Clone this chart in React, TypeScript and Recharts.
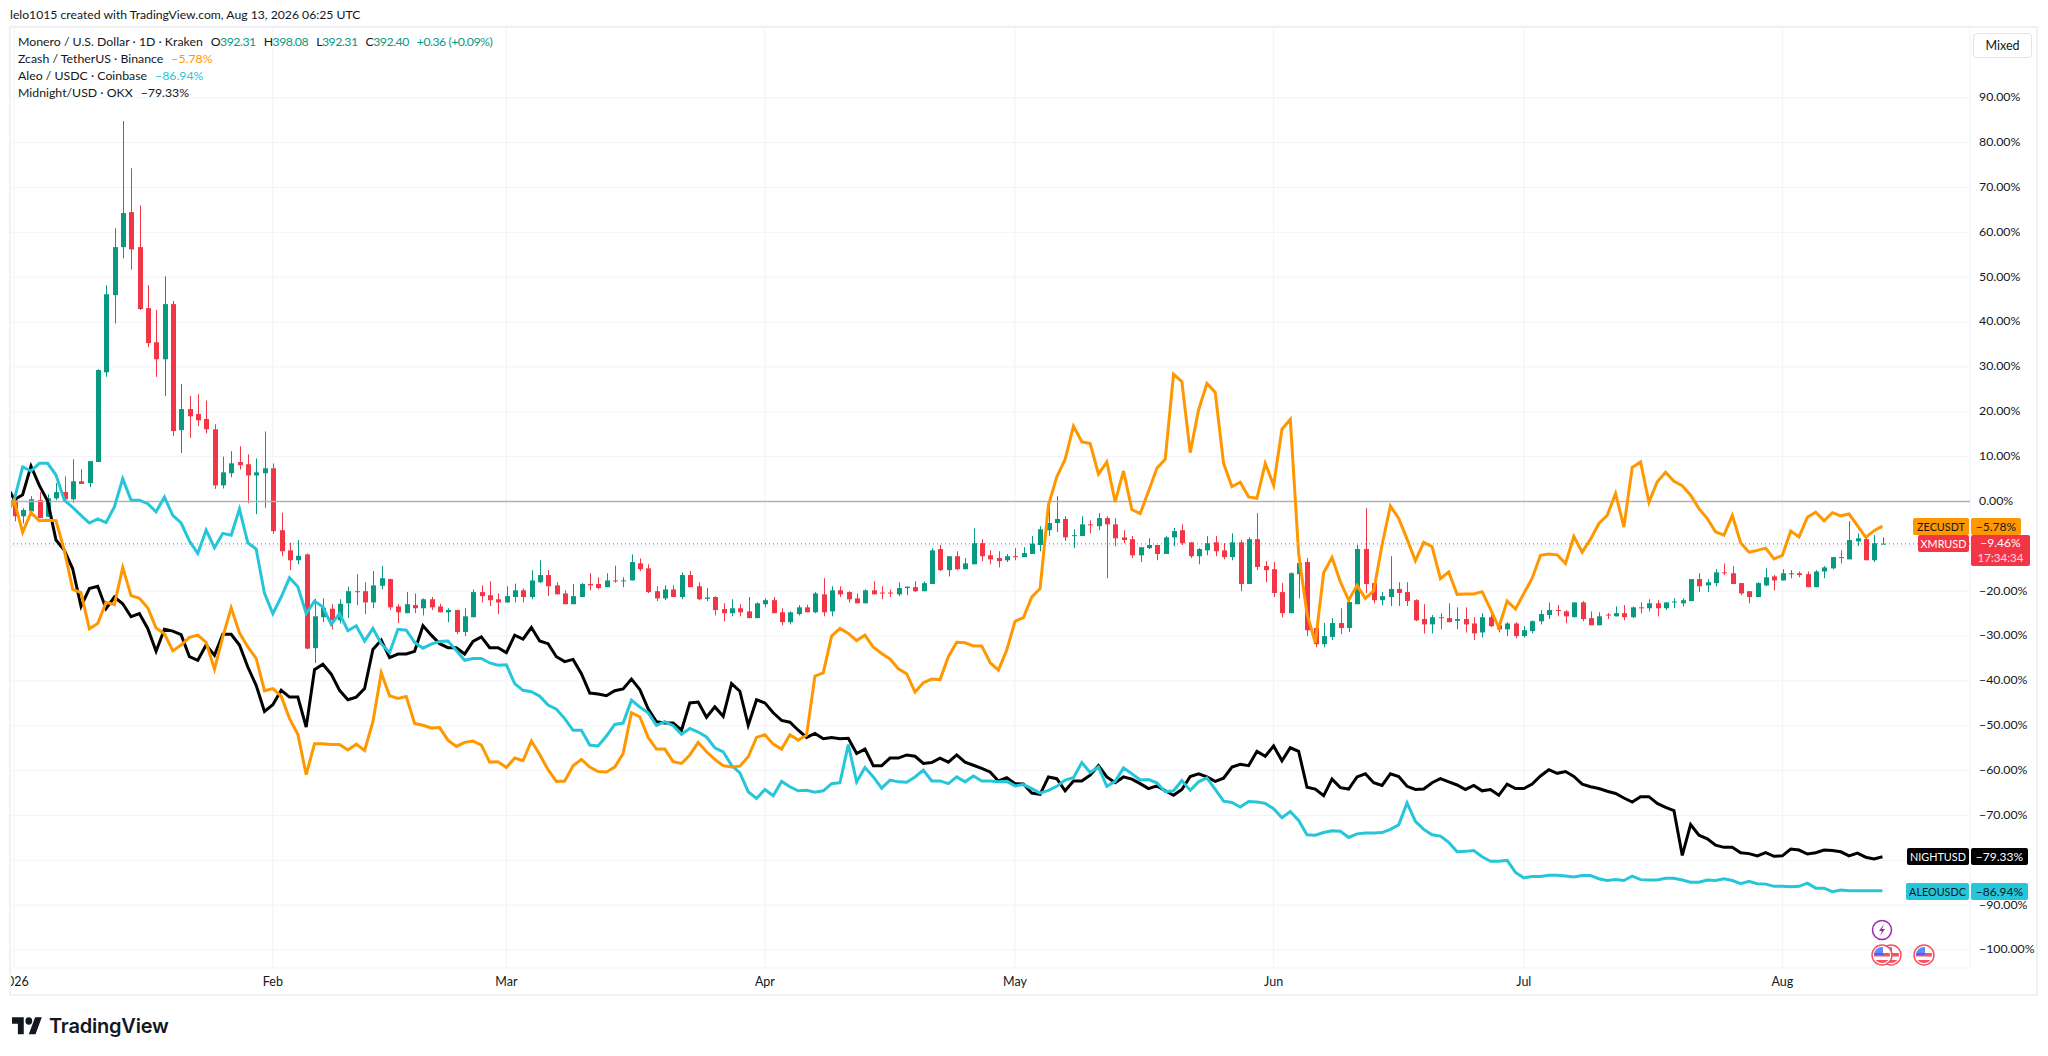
import { Bar, CartesianGrid, ComposedChart, Line, ReferenceLine, XAxis, YAxis } from "recharts";

// day 0 is Jan 1 2026, the first value of each line array is the day before it
const monthTicks = [0, 31, 59, 90, 120, 151, 181, 212];
const monthLabels = ["2026", "Feb", "Mar", "Apr", "May", "Jun", "Jul", "Aug"];
const percentTicks = [90, 80, 70, 60, 50, 40, 30, 20, 10, 0, -10, -20, -30, -40, -50, -60, -70, -80, -90, -100];

const zecLine = [
  -2.7,
  0.1, -6.9, -2.5, -4.3, -4.2, -4.3, -10.9, -19.6, -20.3, -28.4,
  -27.2, -22.5, -23, -14.7, -21, -21.6, -23.7, -28.2, -29.5, -33.3,
  -32, -30.3, -29.8, -31.4, -37.4, -30.2, -23.7, -29.3, -32.4, -35,
  -42.2, -41.7, -43.4, -48.4, -51.9, -60.9, -54, -54, -54.2, -54.2,
  -55.4, -54.1, -55.5, -49.1, -38.2, -43.3, -43.9, -43.5, -49.5, -49.9,
  -50.5, -50.4, -53.2, -54.6, -53.7, -53.4, -54.3, -58.1, -58, -59.3,
  -57.2, -57.8, -53.4, -56.4, -59.8, -62.4, -62.3, -58.9, -57.5, -59.2,
  -60.2, -60.3, -59.2, -56.2, -47.1, -48, -52.6, -55.2, -55.2, -58,
  -58.4, -56.5, -53.7, -55.8, -57.5, -58.9, -59.2, -59, -56.9, -52.6,
  -52, -54.1, -55.2, -52, -53.2, -52.1, -38.9, -38.2, -30, -28.3,
  -29.4, -31, -29.8, -32.5, -33.9, -35.1, -37.3, -38.4, -42.5, -40.4,
  -39.6, -39.7, -34.6, -31.4, -31.5, -32.2, -32.2, -35.9, -37.6, -33.1,
  -26.7, -25.9, -21.3, -19.4, -0.8, 5.5, 9.4, 16.8, 13.3, 12.9,
  6.1, 8.8, -0.1, 6.8, -1.8, -2.7, 2.3, 7.4, 9.4, 28.4,
  26.7, 10.9, 20.4, 26.3, 24.3, 8.5, 3.3, 4.3, 1, 0.7,
  8.5, 3.6, 16.1, 18.3, -11.6, -25, -31.5, -15.9, -12.5, -17.9,
  -22, -18.7, -21.6, -19.9, -9.7, -1, -3.8, -8.4, -13.2, -9.1,
  -10.1, -17.2, -15.7, -20.7, -20.6, -20.6, -20.1, -24, -28.1, -22.2,
  -24, -20.5, -17.1, -12, -11.7, -11.9, -13.8, -7.8, -11.3, -8.4,
  -4.9, -3.1, 1.8, -5.7, 7.6, 8.8, -0.2, 4.4, 6.5, 4.5,
  3.5, 1.4, -1.6, -3.8, -6.8, -7.5, -3.1, -9.2, -11.3, -10.9,
  -10.4, -12.8, -12, -6.6, -7.9, -3.5, -2.4, -4.3, -2.5, -3.2,
  -2.8, -5.4, -8, -6.5, -5.5,
];

const aleoLine = [
  -1.3,
  0.4, 7.7, 6.8, 8.5, 8.5, 5.9, 0.3, -1.3, -3.1, -4.8,
  -3.9, -4.7, -1.2, 5.1, 0.3, 0.3, -0.5, -2.3, 1, -3.1,
  -4.8, -8.8, -11.6, -6.4, -10.3, -7.1, -7.5, -1.7, -9.2, -10.6,
  -20.5, -25, -21.3, -17, -19, -25, -22.2, -23.5, -27.4, -25,
  -28.8, -27.7, -31.1, -28.3, -31.7, -33.7, -28.5, -28.7, -31.4, -32.7,
  -31.8, -31.2, -31.1, -33.2, -35.4, -35, -35, -36, -36.5, -36.4,
  -40.6, -42.1, -42.4, -43.4, -45.4, -46.3, -48.4, -51, -51, -54.3,
  -54.5, -52.3, -49.7, -49.4, -44.3, -45.8, -47.1, -49.9, -49.1, -50,
  -51.9, -50.6, -51.4, -52.5, -54.9, -55.8, -58.8, -60.5, -64.7, -66.2,
  -64.2, -65.6, -62.4, -63.6, -64.5, -64.4, -64.8, -64.5, -62.9, -62.7,
  -54.2, -62.5, -59.3, -61.4, -63.9, -62.1, -62.5, -62.6, -61.4, -59.9,
  -62.3, -62.3, -62.9, -61.4, -62.5, -61.2, -62.3, -62.3, -62.5, -62.4,
  -63.4, -63.1, -64, -65, -64.4, -63.5, -62.1, -61.6, -58.2, -60.4,
  -59.2, -63.5, -62.4, -59.4, -60.7, -62.1, -62, -62.7, -64.7, -64.5,
  -62.2, -64.4, -62.5, -61.6, -64.2, -66.8, -67.1, -68.1, -66.9, -67,
  -67.3, -68.5, -70.5, -69.1, -71.1, -74.3, -74.4, -73.8, -73.4, -73.5,
  -74.9, -74.1, -73.9, -73.9, -73.8, -73.1, -72.1, -67.2, -71.3, -73.1,
  -74.3, -74.6, -76, -78.1, -78, -77.8, -79.2, -80.2, -80.2, -80,
  -82.7, -83.9, -83.6, -83.6, -83.3, -83.3, -83.5, -83.7, -83.4, -83.4,
  -84.1, -84.5, -84.3, -84.5, -83.5, -84.3, -84.4, -84.4, -84, -84,
  -84.4, -84.9, -84.9, -84.4, -84.5, -84.1, -84.5, -85.2, -84.7, -85.2,
  -85.3, -85.8, -85.8, -85.9, -85.8, -85.1, -86.2, -86.2, -87, -86.6,
  -86.8, -86.8, -86.8, -86.8, -86.8,
];

const nightLine = [
  3.9,
  0.4, 1.5, 7.9, 3.6, 0.1, -8.6, -10.9, -15, -23.4, -19.4,
  -18.9, -23.9, -21.3, -22.8, -25.7, -25, -28.3, -33.4, -28.5, -28.9,
  -29.7, -34.6, -35.4, -32, -34.3, -29.6, -29.6, -32, -36.9, -41,
  -46.8, -45.3, -42.1, -43.6, -43.6, -50.3, -37.5, -36.3, -38.5, -42.1,
  -44.2, -43.6, -41.7, -33, -30.9, -34.8, -34, -34, -33.4, -27.7,
  -29.8, -31.7, -32.6, -32.6, -34, -31.2, -30.2, -32.6, -32.6, -33.7,
  -29.8, -30.7, -28.1, -31.1, -31.7, -34.6, -35.7, -35.2, -38.4, -42.7,
  -42.9, -43.3, -42.2, -41.8, -39.6, -41.9, -46.2, -49.1, -49.4, -49.4,
  -51, -44.9, -44.7, -48.1, -45.8, -47.9, -40.6, -42.3, -49.9, -44.2,
  -44.9, -47.1, -48.8, -49.2, -51, -52.6, -51.7, -52.9, -52.6, -52.9,
  -52.8, -56.2, -55.2, -58.9, -58.9, -57.2, -57.2, -56.5, -56.8, -58.4,
  -58.2, -57.2, -58.1, -56.5, -58.1, -58.8, -59.5, -60.3, -62.3, -61.6,
  -62.9, -63, -65, -65.3, -61.4, -61.8, -64.5, -62.3, -62.3, -61,
  -58.9, -61.4, -62.7, -61.4, -61.9, -62.9, -64, -63.4, -64.5, -65.5,
  -64.2, -61.3, -60.7, -61.4, -62.4, -61.7, -59.2, -58.6, -58.9, -55.7,
  -56.8, -54.5, -57.8, -54.9, -55.7, -63.7, -64.1, -65.6, -61.9, -63.8,
  -64.1, -61.4, -60.7, -62.7, -63.3, -60.7, -61.3, -63.5, -64.2, -64.1,
  -62.7, -61.8, -62.5, -63.2, -64.2, -63.3, -64.5, -64.2, -65.5, -63,
  -64, -64, -63, -61.2, -59.8, -60.6, -60.2, -61.3, -63, -63.6,
  -64, -64.6, -65.1, -66.1, -67, -65.8, -65.8, -67.3, -68.2, -68.9,
  -78.9, -72, -74.4, -75.2, -76.6, -77.1, -77.1, -78.3, -78.5, -79,
  -78.3, -79.1, -79, -77.5, -77.7, -78.6, -78.3, -77.7, -77.8, -78.1,
  -79, -78.4, -79.3, -79.7, -79.2,
];

// Monero candles in percent from the first bar, day 0 to day 224
const xmrOpen = [
  0.3, -3.3, -2.2, 0.3, -3.4, 0.7, 2.1, 0.5, 4.5, 4.1,
  8.8, 28.8, 46, 56.7, 64.5, 56.7, 43.1, 35.5, 31.7, 44,
  15.9, 20.6, 19.5, 18.4, 16.1, 3.6, 6.3, 8.8, 8.3, 5.8,
  6.3, 7.4, -6.4, -10.9, -13.1, -11.8, -32.7, -25.8, -23.9, -26.5,
  -22.7, -20, -20, -22.5, -18.8, -17.3, -23.4, -24.9, -23.1, -23.8,
  -21.8, -23.4, -24.7, -24.2, -29.1, -25.8, -20.2, -20.9, -21.8, -22.5,
  -21.3, -19.8, -21.3, -18, -16.4, -18.7, -20.5, -22.9, -21.3, -18.4,
  -18.4, -19.1, -17.6, -17.8, -17.6, -13.8, -14.9, -20, -21.6, -19.6,
  -21.3, -16.4, -18.9, -21.7, -21.3, -24, -24.9, -23.8, -24.5, -26,
  -22.9, -22, -24.7, -26.9, -25.1, -23.6, -24.7, -20.7, -24.5, -19.8,
  -20.2, -21.6, -22.7, -19.8, -20.3, -20.3, -20.7, -19.3, -19.1, -20,
  -18.4, -10.6, -15.3, -12.2, -15.1, -14, -9.3, -12, -12.6, -13.1,
  -12.2, -12.4, -11.7, -9.7, -6.4, -4.8, -3.9, -7.7, -7.7, -5.1,
  -5.5, -3.7, -5.1, -8, -8.4, -12, -10.4, -9.7, -11.7, -8,
  -6.4, -9.1, -12.2, -10.9, -9.1, -10.9, -12.4, -9.1, -18.4, -8.4,
  -14.4, -15.1, -20.2, -24.9, -16.2, -13.5, -28.2, -31.8, -30.2, -27.1,
  -28.2, -22.9, -10.6, -18.2, -22, -21.3, -19.5, -20.2, -22, -26.2,
  -27.4, -25.8, -26, -26.6, -26.2, -27.2, -29.2, -25.8, -27.6, -28.5,
  -27.2, -30, -28.9, -26.7, -25.3, -24.2, -24.5, -25.8, -22.5, -26,
  -27.6, -25.2, -25.6, -24.9, -25.8, -23.6, -23.8, -22.7, -23.8, -22.5,
  -22.7, -22.2, -17.3, -18.7, -18.2, -15.8, -16, -18.2, -20, -21.3,
  -18.7, -16.7, -17.6, -16.2, -16, -16.2, -19.1, -15.6, -14.9, -12.4,
  -12.9, -8.9, -8.4, -13.1, -9.5,
];

const xmrHigh = [
  0.3, -1.5, 1.2, 2.1, 1.6, 4.1, 5.6, 9.4, 7.2, 9,
  29.5, 48.2, 60.9, 84.8, 74.3, 66, 48.2, 42.7, 50.2, 44.7,
  26.2, 23.5, 23.9, 22.5, 17.2, 10, 11.2, 12.3, 10.5, 9.6,
  15.6, 8.5, -2.5, -9.2, -8.6, -11.6, -21.7, -21.6, -22.9, -21.8,
  -19, -16.2, -18, -15.5, -14.4, -17.2, -22.9, -20.2, -20.5, -21.6,
  -21.3, -22.8, -23.8, -24.1, -23.8, -19.6, -18.7, -17.8, -20.5, -18.9,
  -18.3, -19.4, -15.3, -13.1, -15.3, -18, -19.8, -18.4, -18.2, -16,
  -16.9, -16, -14.3, -16.9, -11.8, -12.7, -14, -18.9, -18.7, -18.7,
  -15.8, -15.5, -18, -19.3, -21.1, -22.7, -21.8, -22.9, -21.3, -22.5,
  -21.6, -21.3, -23.8, -24.5, -23.1, -23, -20.2, -17.1, -18.9, -18.9,
  -20, -20.5, -19.6, -17.8, -18.9, -19.6, -18, -18.9, -17.8, -17.8,
  -10.4, -9.7, -12.2, -11.1, -12.6, -6, -8.4, -10.9, -11.1, -11.7,
  -10.4, -10.2, -7.7, -5.5, -0.8, 1.2, -3.3, -6.2, -3.3, -4.2,
  -2.6, -3.3, -3.7, -6.4, -7.7, -10.2, -8.2, -9.7, -7.7, -5.9,
  -5.1, -9.1, -10.4, -7.7, -7.7, -9.3, -7.1, -8.6, -8, -2.6,
  -13.3, -13.5, -18.2, -15.8, -11.1, -12.6, -27.4, -27.1, -26, -23.8,
  -22.2, -9.7, -1.5, -18.2, -20.2, -12.2, -18, -18, -21.8, -22.9,
  -25.3, -24.9, -22.7, -23.6, -23.6, -25.8, -24.9, -25.3, -26.7, -26.9,
  -26.9, -27.8, -26.5, -24.2, -22.5, -23.1, -24.2, -22.5, -22.2, -24.5,
  -24.7, -24.9, -23.4, -23.1, -23.4, -22.5, -21.8, -22, -22.5, -21.6,
  -21.6, -17.3, -16, -17.3, -15.1, -13.8, -14.4, -18.2, -20, -18,
  -14.9, -16.4, -15.1, -15.3, -15.6, -15.6, -15.3, -14.4, -12.4, -10.9,
  -4.4, -7.1, -7.7, -7.5, -8,
];

const xmrLow = [
  -4.4, -4.9, -2.2, -3.7, -3.4, 0.3, -0.1, -0.3, 3.9, 3.2,
  8.8, 27.8, 39.7, 54.2, 51.7, 42.7, 34.4, 27.8, 23.5, 14.6,
  10.8, 14.2, 16.8, 15.2, 2.8, 2.9, 5.4, 7.1, -0.4, -2.8,
  -1.4, -7.2, -12.2, -15.3, -14, -32.9, -36, -26.9, -28.5, -27.2,
  -26, -23.1, -25.1, -23.8, -19.6, -24.2, -27.1, -24.9, -24.9, -25.4,
  -24.2, -24.7, -26.9, -29.6, -30, -25.8, -22.5, -23.3, -25.1, -22.6,
  -22.5, -22.5, -21.8, -18.2, -21.1, -20.7, -22.9, -22.9, -21.3, -19.8,
  -19.6, -19.1, -18.1, -19.1, -17.6, -15.5, -20.4, -22.2, -22, -21.3,
  -21.8, -19.1, -22, -22.2, -25.4, -26.7, -25.6, -25.6, -26, -26,
  -23.6, -24.9, -27.6, -27.4, -25.4, -24.7, -24.9, -25.6, -25.6, -21.3,
  -22.5, -22.7, -22.7, -20.7, -21.8, -21.3, -21.1, -20.9, -20.2, -20,
  -18.4, -15.5, -16.7, -15.3, -15.1, -14, -13.3, -14, -14.7, -13.5,
  -13.1, -12.4, -11.7, -11.1, -7.7, -6.8, -8.8, -10.4, -7.7, -7.1,
  -6.4, -17.1, -10, -9.3, -12.6, -13.5, -10.6, -13.1, -11.7, -10,
  -9.7, -12.6, -14, -12, -12.2, -12.9, -13.1, -20, -18.4, -15.3,
  -18, -21.3, -25.8, -24.9, -21.6, -30, -32.5, -32.5, -30.9, -29.6,
  -29.1, -22.9, -20.4, -22.7, -23.1, -23.3, -23.3, -23.3, -26.7, -29.4,
  -29.4, -28.5, -26.9, -28.5, -29.2, -30.9, -30.3, -28, -29.2, -30,
  -30.5, -30.3, -29.4, -27.4, -26.2, -25.6, -27.1, -25.8, -26.7, -27.6,
  -27.6, -26.2, -25.6, -26.5, -26, -24.9, -24.5, -25.6, -24.2, -23.8,
  -23.4, -22.2, -20.2, -20.2, -18.9, -16.4, -18.4, -20.9, -22.7, -21.3,
  -18.9, -19.8, -17.6, -17.1, -16.9, -19.1, -19.1, -17.1, -15.1, -13.8,
  -12.9, -9.9, -13.1, -13.5, -9.5,
];

const xmrClose = [
  -3.3, -1.9, 0.5, -3.7, 0.7, 2.1, 0.5, 4.5, 3.9, 9,
  29.3, 46.2, 56.7, 64.3, 56.2, 42.9, 35.3, 31.7, 44, 15.7,
  20.6, 19, 18.1, 16.1, 3.6, 6.5, 8.5, 8.1, 5.8, 6.5,
  7.4, -6.6, -11.1, -13.1, -12.1, -32.8, -25.6, -23.7, -26.5, -22.8,
  -20, -20.1, -22.5, -18.7, -17.1, -23.6, -24.7, -22.9, -23.8, -21.8,
  -23.6, -24.7, -24.2, -29.1, -25.6, -20.2, -21.1, -22, -22.5, -21.1,
  -19.8, -21.3, -17.6, -16.4, -18.9, -20.7, -22.9, -21.1, -18.4, -18.7,
  -19.3, -17.6, -17.8, -17.6, -13.5, -15.1, -20.2, -21.6, -19.6, -21.3,
  -16.4, -19.1, -21.8, -21.4, -24.2, -24.9, -23.8, -24.7, -26, -22.7,
  -22, -24.9, -26.9, -24.7, -23.6, -24.7, -20.5, -24.7, -19.8, -20.7,
  -21.8, -22.7, -19.8, -20.7, -20.4, -20.4, -19.3, -19, -20, -18.2,
  -10.9, -15.3, -12.2, -15.1, -13.8, -9.3, -12.2, -12.9, -13.3, -12.2,
  -12.4, -11.5, -9.4, -6.2, -4.8, -3.9, -8, -7.5, -5.1, -5.3,
  -3.7, -5.1, -8.2, -8.6, -12, -10.2, -9.7, -11.7, -8, -6.6,
  -9.3, -12.2, -10.6, -9.3, -11.1, -12.4, -9.1, -18.4, -8.4, -14.6,
  -15.3, -20.4, -24.9, -16, -13.7, -28.7, -31.8, -30, -27.1, -28.2,
  -22.4, -10.6, -18.4, -22, -21.1, -19.5, -20.4, -22.2, -26.5, -27.4,
  -25.8, -26, -26.9, -26.2, -27.4, -29.4, -25.8, -27.8, -28.5, -27.2,
  -30, -28.7, -26.7, -25.1, -24.2, -24.4, -25.6, -22.5, -26.2, -27.6,
  -25.6, -25.4, -24.9, -25.8, -23.6, -23.8, -22.7, -23.8, -22.5, -22.3,
  -22, -17.3, -18.9, -18, -15.8, -16, -18.4, -20.5, -21.3, -18.2,
  -16.9, -17.6, -16, -16, -16.4, -19.1, -15.6, -14.7, -12.4, -12.6,
  -8.6, -8.2, -13.1, -9.3, -9.4,
];

const lastXmr = -9.46;

const UP = "#089981";
const DOWN = "#F23645";
const ORANGE = "#FF9800";
const CYAN = "#26C6DA";
const FONT = "Lato, sans-serif";

const chartData = zecLine.map((zec, i) => ({
  day: i - 1,
  zec,
  aleo: aleoLine[i],
  night: nightLine[i],
  open: xmrOpen[i - 1],
  high: xmrHigh[i - 1],
  low: xmrLow[i - 1],
  close: xmrClose[i - 1],
}));

const formatPercent = (v: number) =>
  (v < 0 ? "\u2212" : "") + Math.abs(v).toFixed(2) + "%";

// wick comes from the bar's low-high range, the body is placed inside it
function Candle(props: any) {
  const { x, y, width, height, payload } = props;
  if (payload.open === undefined) return null;
  const top = Math.min(y, y + height);
  const range = payload.high - payload.low;
  const scale = range > 0 ? Math.abs(height) / range : 0;
  const cx = Math.round(x + width / 2);
  const bodyTop = top + (payload.high - Math.max(payload.open, payload.close)) * scale;
  const bodyH = Math.max(Math.abs(payload.open - payload.close) * scale, 1);
  const color = payload.close >= payload.open ? UP : DOWN;
  return (
    <g>
      <rect x={cx} y={top} width={1} height={Math.abs(height)} fill={color} />
      <rect x={cx - 2} y={bodyTop} width={5} height={bodyH} fill={color} />
    </g>
  );
}

function Tag({ left, top, width, height, bg, color, size = 12, children }: any) {
  return (
    <div
      style={{
        position: "absolute",
        left,
        top,
        width,
        height,
        background: bg,
        color,
        borderRadius: 2,
        fontSize: size,
        lineHeight: "17px",
        textAlign: "center",
        whiteSpace: "nowrap",
      }}
    >
      {children}
    </div>
  );
}

function FlagIcon({ cx, cy }: { cx: number; cy: number }) {
  return (
    <g>
      <circle cx={cx} cy={cy} r={10} fill="#fff" stroke="#F7525F" strokeWidth={1.5} />
      <clipPath id={`flag-${cx}`}>
        <circle cx={cx} cy={cy} r={8} />
      </clipPath>
      <g clipPath={`url(#flag-${cx})`}>
        <rect x={cx - 8} y={cy - 8} width={16} height={16} fill="#fff" />
        <rect x={cx - 8} y={cy - 2} width={16} height={3.5} fill="#F7525F" />
        <rect x={cx - 8} y={cy + 5} width={16} height={3} fill="#F7525F" />
        <rect x={cx - 8} y={cy - 8} width={9} height={8} fill="#2962FF" opacity={0.75} />
      </g>
    </g>
  );
}

function Ohlc({ label, value }: { label: string; value: string }) {
  return (
    <span style={{ marginLeft: 8, letterSpacing: -0.5 }}>
      {label}
      <span style={{ color: UP }}>{value}</span>
    </span>
  );
}

export default function App() {
  return (
    <div
      style={{
        position: "absolute",
        left: 0,
        top: 0,
        width: 2048,
        height: 1056,
        background: "#fff",
        overflow: "hidden",
        fontFamily: FONT,
        color: "#131722",
      }}
    >
      <ComposedChart
        width={2048}
        height={1056}
        data={chartData}
        margin={{ top: 26, right: 10, bottom: 60, left: 10 }}
        style={{ fontFamily: FONT }}
      >
        <CartesianGrid stroke="#f0f3fa" />
        <XAxis
          dataKey="day"
          type="number"
          domain={[-0.516, 234.5]}
          allowDataOverflow
          ticks={monthTicks}
          tickFormatter={(v: number) => monthLabels[monthTicks.indexOf(v)]}
          axisLine={false}
          tickLine={false}
          tickSize={0}
          tickMargin={9}
          height={28}
          interval={0}
          tick={{ fontSize: 12.5, fill: "#131722" }}
        />
        <YAxis
          orientation="right"
          type="number"
          domain={[-104, 106]}
          allowDataOverflow
          ticks={percentTicks}
          tickFormatter={formatPercent}
          axisLine={false}
          tickLine={false}
          tickSize={0}
          tickMargin={9}
          width={68}
          interval={0}
          tick={{ fontSize: 12.3, fill: "#131722", dy: -1 }}
        />
        <ReferenceLine y={0} stroke="#b2b2b5" strokeWidth={1.5} />
        <ReferenceLine y={lastXmr} stroke={DOWN} strokeWidth={1} strokeDasharray="1 3" />
        <Line dataKey="night" stroke="#000000" strokeWidth={3} dot={false} activeDot={false} isAnimationActive={false} />
        <Line dataKey="aleo" stroke={CYAN} strokeWidth={3} dot={false} activeDot={false} isAnimationActive={false} />
        <Line dataKey="zec" stroke={ORANGE} strokeWidth={3} dot={false} activeDot={false} isAnimationActive={false} />
        <Bar
          dataKey={(d: any) => (d.open === undefined ? null : [d.low, d.high])}
          barSize={5}
          shape={<Candle />}
          isAnimationActive={false}
        />
      </ComposedChart>

      {/* pane frame, also cuts off the 2026 label at the left edge */}
      <div style={{ position: "absolute", left: 0, top: 0, width: 9, height: 1056, background: "#fff" }} />
      <div
        style={{
          position: "absolute",
          left: 9,
          top: 26,
          width: 2025,
          height: 966,
          border: "2px solid #f0f1f4",
        }}
      />

      <div style={{ position: "absolute", left: 10, top: 6, fontSize: 12.2, lineHeight: "18px", whiteSpace: "nowrap" }}>
        lelo1015 created with TradingView.com, Aug 13, 2026 06:25 UTC
      </div>

      <div style={{ position: "absolute", left: 18, top: 33, fontSize: 12.3, lineHeight: "17px", whiteSpace: "nowrap" }}>
        <div>
          Monero / U.S. Dollar · 1D · Kraken
          <Ohlc label="O" value="392.31" />
          <Ohlc label="H" value="398.08" />
          <Ohlc label="L" value="392.31" />
          <Ohlc label="C" value="392.40" />
          <Ohlc label="" value="+0.36 (+0.09%)" />
        </div>
        <div>
          Zcash / TetherUS · Binance<span style={{ color: ORANGE, marginLeft: 8 }}>−5.78%</span>
        </div>
        <div>
          Aleo / USDC · Coinbase<span style={{ color: CYAN, marginLeft: 8 }}>−86.94%</span>
        </div>
        <div>
          Midnight/USD · OKX<span style={{ marginLeft: 8 }}>−79.33%</span>
        </div>
      </div>

      <div
        style={{
          position: "absolute",
          left: 1973,
          top: 33,
          width: 57,
          height: 23,
          border: "1px solid #e0e3eb",
          borderRadius: 4,
          fontSize: 12.5,
          lineHeight: "23px",
          textAlign: "center",
          background: "#fff",
        }}
      >
        Mixed
      </div>

      <Tag left={1913} top={518} width={56} height={17} bg={ORANGE} color="#131722" size={10.8}>ZECUSDT</Tag>
      <Tag left={1971} top={518} width={50} height={17} bg={ORANGE} color="#131722">−5.78%</Tag>
      <Tag left={1918} top={535} width={51} height={17} bg={DOWN} color="#fff" size={10.8}>XMRUSD</Tag>
      <Tag left={1971} top={535} width={59} height={31} bg={DOWN} color="#fff">
        <div style={{ height: 16, lineHeight: "16px" }}>−9.46%</div>
        <div style={{ height: 14, lineHeight: "14px", fontSize: 11.5, opacity: 0.8 }}>17:34:34</div>
      </Tag>
      <Tag left={1907} top={848} width={62} height={17} bg="#000" color="#fff" size={10.8}>NIGHTUSD</Tag>
      <Tag left={1971} top={848} width={57} height={17} bg="#000" color="#fff">−79.33%</Tag>
      <Tag left={1906} top={883} width={63} height={17} bg={CYAN} color="#131722" size={10.8}>ALEOUSDC</Tag>
      <Tag left={1971} top={883} width={57} height={17} bg={CYAN} color="#131722">−86.94%</Tag>

      <svg width={2048} height={1056} style={{ position: "absolute", left: 0, top: 0, pointerEvents: "none" }}>
        <circle cx={1882} cy={930} r={9.5} fill="#fff" stroke="#9C27B0" strokeWidth={1.5} />
        <path d="M1884 924l-5 7h3l-2 5 5-7h-3z" fill="#9C27B0" />
        <FlagIcon cx={1891} cy={955} />
        <FlagIcon cx={1882} cy={955} />
        <FlagIcon cx={1924} cy={955} />
        <g transform="translate(12 1013.5) scale(0.84 0.94)">
          <path d="M14 22H7V11H0V4h14v18zM28 22h-8l7.5-18h8L28 22z" fill="#131722" />
          <circle cx={20} cy={8} r={4} fill="#131722" />
        </g>
      </svg>
      <div
        style={{
          position: "absolute",
          left: 49,
          top: 1011,
          fontFamily: "Inter, sans-serif",
          fontWeight: 600,
          fontSize: 20,
          lineHeight: "30px",
          letterSpacing: -0.2,
          color: "#131722",
        }}
      >
        TradingView
      </div>
    </div>
  );
}
